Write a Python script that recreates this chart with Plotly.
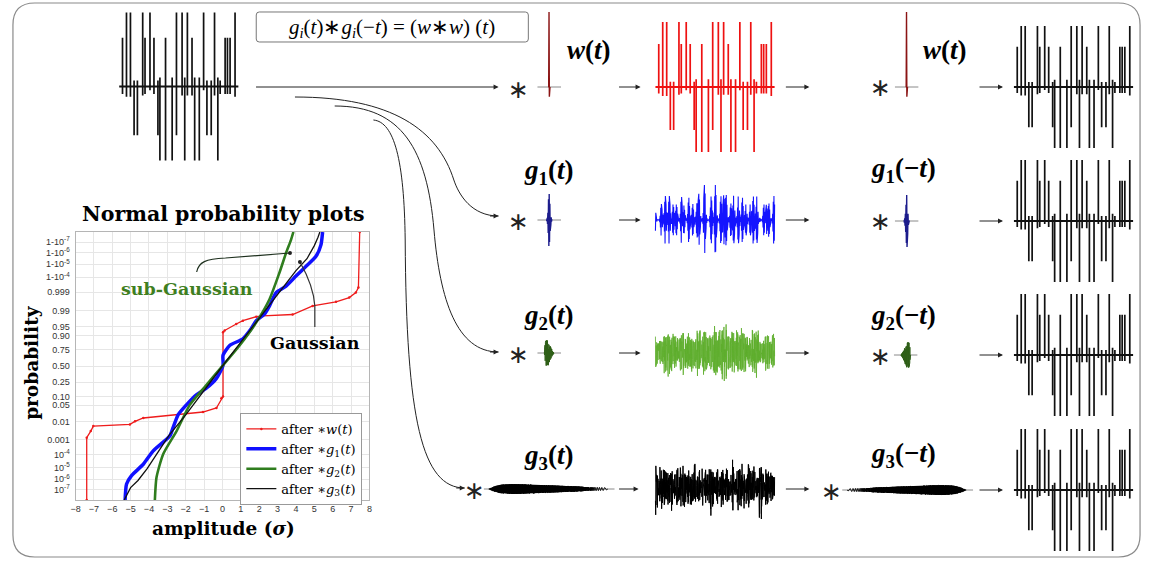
import numpy as np
import plotly.graph_objects as go

W, H = 1150, 562

# ---------------- data ----------------
# sparse reflectivity series (sample index, positive lobe, negative lobe)
spike_pos = [10, 22, 34, 45, 55, 71, 78, 93, 105, 117, 123, 140, 160, 173, 190,
             198, 206, 220, 228, 242, 255, 265, 278, 288, 298, 305, 320, 327, 335, 350]
spike_hi = [0.66, 1.0, 1.0, 0.08, 0.08, 1.0, 0.66, 1.0, 0.66, 0.08, 0.12, 0.66, 0.12, 1.0, 1.0,
            0.12, 1.0, 0.66, 0.12, 0.12, 1.0, 0.08, 0.08, 1.0, 0.12, 0.08, 0.66, 0.66, 0.66, 1.0]
spike_lo = [-0.10, -0.14, -0.14, -0.66, -0.66, -0.12, -0.10, -0.05, -0.10, -0.66, -1.0, -1.0, -1.0, -0.66, -0.12,
            -1.0, -0.12, -0.12, -1.0, -1.0, -0.05, -0.66, -0.66, -0.12, -1.0, -0.10, -0.10, -0.10, -0.10, -0.14]
n_samples = 361
upsample = 4

# wavelets
w_wavelet = [0.0, 0.0, 1.0, -0.13, 0.0, 0.0]
g1_wavelet = [0.02, -0.04, 0.08, -0.15, 0.28, -0.5, 0.8, -1.0, 1.0, -0.85, 0.62, -0.42, 0.28,
              -0.18, 0.1, -0.06, 0.03]
g2_len = 120
g2_env_pos = [0.0, 0.06, 0.16, 0.4, 0.62, 0.82, 1.0]
g2_env_val = [0.0, 0.55, 1.0, 0.95, 0.55, 0.2, 0.0]
g2_freq_pos = [0.0, 0.5, 1.0]
g2_freq_val = [0.41, 0.33, 0.27]
g3_env_pos = [0.0, 0.04, 0.1, 0.2, 0.356, 0.49, 0.63, 0.77, 0.82, 0.877, 0.93, 0.97, 1.0]
g3_env_val = [0.0, 0.45, 0.85, 1.0, 0.88, 0.75, 0.62, 0.48, 0.38, 0.32, 0.32, 0.32, 0.15]
g3_freq_pos = [0.0, 0.6, 0.84, 0.9, 0.96, 1.0]
g3_freq_val = [0.4, 0.3, 0.15, 0.05, 0.03, 0.015]

# normal probability plot
prob_ticks_z = [-5.199, -4.753, -4.265, -3.719, -3.090, -2.326, -1.645, -1.282, -0.674, 0.0,
                0.674, 1.282, 1.645, 2.326, 3.090, 3.719, 4.265, 4.753, 5.199]
prob_ticks_text = ['10<sup>-7</sup>', '10<sup>-6</sup>', '10<sup>-5</sup>', '10<sup>-4</sup>', '0.001',
                   '0.01', '0.05', '0.10', '0.25', '0.50', '0.75', '0.90', '0.95', '0.99', '0.999',
                   '1-10<sup>-4</sup>', '1-10<sup>-5</sup>', '1-10<sup>-6</sup>', '1-10<sup>-7</sup>']
amp_ticks = [-8, -7, -6, -5, -4, -3, -2, -1, 0, 1, 2, 3, 4, 5, 6, 7, 8]

red_amp = [-7.39, -7.39, -7.17, -7.03, -5.04, -4.76, -4.31, -1.06, -0.33, -0.06, 0.03, 0.03, 0.12,
           0.75, 1.11, 1.84, 2.2, 3.82, 4.91, 6.18, 6.9, 7.26, 7.4, 7.47]
red_z = [-5.62, -3.01, -2.73, -2.52, -2.45, -2.32, -2.18, -1.93, -1.76, -1.35, -1.28, 1.42, 1.49,
         1.76, 1.90, 2.07, 2.1, 2.16, 2.52, 2.69, 2.87, 3.08, 3.29, 5.62]
blue_amp = [-5.3, -5.22, -4.95, -4.31, -3.77, -2.87, -2.69, -2.41, -1.96, -1.42, -0.88, -0.33, 0.03,
            0.03, 0.39, 1.11, 1.56, 1.84, 2.29, 2.56, 2.92, 3.46, 4.0, 4.55, 5.09, 5.36, 5.45]
blue_z = [-5.62, -4.95, -4.6, -4.12, -3.56, -2.94, -2.59, -2.04, -1.63, -1.21, -0.93, -0.52, 0.03,
          0.45, 0.86, 1.14, 1.56, 1.90, 2.18, 2.52, 3.08, 3.35, 3.77, 4.18, 4.6, 5.08, 5.62]
green_amp = [-3.68, -3.59, -3.23, -2.5, -1.78, -0.88, 0.03, 0.93, 1.84, 2.56, 3.1, 3.46, 3.73, 3.86]
green_z = [-5.62, -4.67, -3.7, -2.73, -1.63, -0.8, 0.03, 0.86, 1.83, 2.8, 3.91, 4.74, 5.29, 5.62]
black_amp = [-5.35, -5.0, -4.6, -4.1, -3.5, -2.9, -2.0, -1.0, 0.0, 1.0, 2.0, 3.0, 4.0, 4.6, 5.0, 5.2, 5.3]
black_z = [-5.62, -5.1, -4.8, -4.3, -3.6, -2.9, -2.05, -1.0, 0.0, 1.0, 2.0, 3.05, 4.0, 4.5, 5.05, 5.4, 5.62]

# ---------------- derived signals ----------------
refl = np.zeros(n_samples)
n_fine = (n_samples - 1) * upsample + 1
refl_fine = np.zeros(n_fine)
for p, hi, lo in zip(spike_pos, spike_hi, spike_lo):
    refl[p] += hi
    refl[p + 1] += lo
    refl_fine[p * upsample] += hi
    refl_fine[p * upsample + 2] += lo


def chirp(n, env_pos, env_val, f_pos, f_val):
    t = np.linspace(0, 1, n)
    env = np.interp(t, env_pos, env_val)
    ph = 2 * np.pi * np.cumsum(np.interp(t, f_pos, f_val))
    return t, env, env * np.cos(ph)


_, g2_env, g2_wavelet = chirp(g2_len, g2_env_pos, g2_env_val, g2_freq_pos, g2_freq_val)
pp, g3_env, g3_wavelet = chirp(n_fine, g3_env_pos, g3_env_val, g3_freq_pos, g3_freq_val)


def circ_conv(sig, wav):
    k = np.zeros(len(sig))
    k[:len(wav)] = wav
    return np.real(np.fft.ifft(np.fft.fft(sig) * np.fft.fft(k)))


out_g1 = circ_conv(refl, g1_wavelet)
out_g2 = circ_conv(refl_fine, g2_wavelet)
out_g3 = circ_conv(refl_fine, g3_wavelet)

# ---------------- helpers ----------------
fig = go.Figure()
axes = {}
count = [1]


def px(x):
    return x / W


def py(y):
    return 1 - y / H


def add_panel(x0, x1, y0, y1, xr, yaxis_px, scale):
    count[0] += 1
    n = count[0]
    axes[f'xaxis{n}'] = dict(domain=[px(x0), px(x1)], range=list(xr), visible=False,
                             fixedrange=True, anchor=f'y{n}')
    axes[f'yaxis{n}'] = dict(domain=[py(y1), py(y0)],
                             range=[-(y1 - yaxis_px) / scale, (yaxis_px - y0) / scale],
                             visible=False, fixedrange=True, anchor=f'x{n}')
    return f'x{n}', f'y{n}'


def line(xa, ya, x, y, color, width, **kw):
    fig.add_trace(go.Scatter(x=x, y=y, mode='lines', line=dict(color=color, width=width),
                             xaxis=xa, yaxis=ya, showlegend=False, hoverinfo='skip', **kw))


def spike_panel(x0, yaxis_px, amp_px, color):
    xa, ya = add_panel(x0 - 3, x0 + 123, yaxis_px - amp_px * 1.15, yaxis_px + amp_px * 1.15,
                       (-9, 369), yaxis_px, amp_px)
    xs, ys = [], []
    for p, hi, lo in zip(spike_pos, spike_hi, spike_lo):
        xs += [p, p, None]
        ys += [lo, hi, None]
    line(xa, ya, [0, 360], [0, 0], color, 2.2)
    line(xa, ya, xs, ys, color, 1.7)


def wave_panel(x0, yaxis_px, up_px, sig, color, width=1.1, step=1):
    m = float(np.max(np.abs(sig)))
    xa, ya = add_panel(x0 - 3, x0 + 123, yaxis_px - up_px - 8, yaxis_px + up_px + 8,
                       (-9, 369), yaxis_px, up_px / m)
    line(xa, ya, np.arange(len(sig)) / step, sig, color, width)


def wavelet_panel(cx, yaxis_px, up_px, down_px, wav, color, width=1.4, spp=3):
    n = len(wav)
    c = (n - 1) / 2
    xa, ya = add_panel(cx - 12, cx + 12, yaxis_px - up_px - 4, yaxis_px + down_px + 4,
                       (c - 12 * spp, c + 12 * spp), yaxis_px, up_px)
    line(xa, ya, [c - 12 * spp, c + 12 * spp], [0, 0], '#8a8a8a', 1)
    line(xa, ya, np.arange(n), wav, color, width)


def g3_panel(x0, yaxis_px, reverse):
    idx = np.arange(n_fine) / upsample
    env, wav = g3_env, g3_wavelet
    if reverse:
        idx = 360 - idx
    xa, ya = add_panel(x0 - 5, x0 + 127, yaxis_px - 10, yaxis_px + 10, (-15, 381), yaxis_px, 5.0)
    line(xa, ya, [-15, 381], [0, 0], '#8a8a8a', 1)
    mask = pp <= 0.8
    xf = np.concatenate([idx[mask], idx[mask][::-1]])
    yf = np.concatenate([env[mask], -env[mask][::-1]])
    fig.add_trace(go.Scatter(x=xf, y=yf, mode='lines', fill='toself', fillcolor='black',
                             line=dict(width=0, color='black'), xaxis=xa, yaxis=ya,
                             showlegend=False, hoverinfo='skip'))
    line(xa, ya, idx, wav, 'black', 0.9)


def path(cmds):
    out = []
    for c in cmds:
        op, nums = c[0], c[1:]
        pts = [f'{px(nums[i]):.5f},{py(nums[i + 1]):.5f}' for i in range(0, len(nums), 2)]
        out.append(op + ' ' + ' '.join(pts))
    return ' '.join(out)


shapes, ann = [], []


def text(x, y, s, size, color='black', family='DejaVu Serif', **kw):
    ann.append(dict(x=px(x), y=py(y), xref='paper', yref='paper', text=s, showarrow=False,
                    font=dict(size=size, color=color, family=family),
                    xanchor='center', yanchor='middle', **kw))


def arrow(x0, y0, x1, y1):
    ann.append(dict(x=px(x1), y=py(y1), xref='paper', yref='paper', ax=x0 - x1, ay=y0 - y1,
                    axref='pixel', ayref='pixel', text='', showarrow=True, arrowhead=2,
                    arrowsize=1, arrowwidth=1, arrowcolor='#222'))


# ---------------- normal probability plot ----------------
fig.add_trace(go.Scatter(x=red_amp, y=red_z, mode='lines+markers', name='after ∗<i>w</i>(<i>t</i>)',
                         line=dict(color='#ee1c1c', width=1.3), marker=dict(size=2.5, color='#ee1c1c'),
                         hoverinfo='skip'))
fig.add_trace(go.Scatter(x=blue_amp, y=blue_z, mode='lines', name='after ∗<i>g</i><sub>1</sub>(<i>t</i>)',
                         line=dict(color='#1010ff', width=3.5, shape='spline', smoothing=0.6), hoverinfo='skip'))
fig.add_trace(go.Scatter(x=green_amp, y=green_z, mode='lines', name='after ∗<i>g</i><sub>2</sub>(<i>t</i>)',
                         line=dict(color='#2f7d1e', width=2.6, shape='spline', smoothing=0.6), hoverinfo='skip'))
fig.add_trace(go.Scatter(x=black_amp, y=black_z, mode='lines', name='after ∗<i>g</i><sub>3</sub>(<i>t</i>)',
                         line=dict(color='#111111', width=1.3), hoverinfo='skip'))

tickfont = dict(family='Liberation Sans', size=9, color='#333')
axes['xaxis'] = dict(domain=[px(71), px(367)], range=[-8, 8], tickvals=amp_ticks,
                     showgrid=True, gridcolor='#e6e6e6', showline=True, linecolor='#b5b5b5',
                     mirror=True, ticks='', tickfont=tickfont, zeroline=False, fixedrange=True,
                     anchor='y')
axes['yaxis'] = dict(domain=[py(500), py(232)], range=[-5.62, 5.62], tickvals=prob_ticks_z,
                     ticktext=prob_ticks_text, showgrid=True, gridcolor='#e6e6e6', showline=True,
                     linecolor='#b5b5b5', mirror=True, ticks='', tickfont=tickfont, zeroline=False,
                     fixedrange=True, anchor='x', ticklabelstandoff=3)

text(220, 214, '<b>Normal probability plots</b>', 20.5)
text(220, 528, '<b>amplitude (<i>σ</i>)</b>', 18.5)
text(26, 362, '<b>probability</b>', 18.5, textangle=-90)
text(183, 289, '<b>sub-Gaussian</b>', 17.5, color='#3f7f1f')
text(312, 343, '<b>Gaussian</b>', 17.5)
shapes.append(dict(type='path', xref='paper', yref='paper', layer='above',
                   path=path([('M', 193, 272), ('C', 195, 262, 202, 259, 222, 258), ('L', 287, 253)]),
                   line=dict(color='#1e301e', width=1.2)))
shapes.append(dict(type='path', xref='paper', yref='paper', layer='above',
                   path=path([('M', 312, 327), ('L', 312, 306), ('C', 311, 290, 305, 276, 297, 262)]),
                   line=dict(color='#333', width=1.2)))
for cx, cy in [(287, 253), (297, 262)]:
    shapes.append(dict(type='circle', xref='paper', yref='paper', layer='above',
                       x0=px(cx - 2), x1=px(cx + 2), y0=py(cy + 2), y1=py(cy - 2),
                       fillcolor='#222', line=dict(width=0)))

# ---------------- diagram ----------------
# input series
spike_panel(115, 86.5, 74, '#111111')

# column outputs
spike_panel(655, 87, 65, '#ee1111')
wave_panel(655, 220, 35, out_g1, '#1414ff')
wave_panel(655, 352, 29, out_g2, '#5fae2e', 0.8, upsample)
wave_panel(655, 487, 32, out_g3, '#000000', 1.0, upsample)

# final outputs
for ya_px in [87, 221, 355, 490]:
    spike_panel(1016, ya_px, 61, '#111111')

# wavelets left
wavelet_panel(548, 87, 75, 12, w_wavelet, '#8b1414')
wavelet_panel(548, 220, 26, 27, g1_wavelet, '#1c1c8c')
wavelet_panel(548, 353, 13, 15, g2_wavelet, '#2d5e16', 1.0, 12)
g3_panel(487, 489, False)
# wavelets right
wavelet_panel(908, 87, 75, 12, w_wavelet, '#8b1414')
wavelet_panel(908, 221, 26, 27, g1_wavelet[::-1], '#1c1c8c')
wavelet_panel(907, 355, 13, 15, g2_wavelet[::-1], '#2d5e16', 1.0, 12)
g3_panel(848, 490, True)

# labels
mathfont = 'Liberation Serif'
wt = '<b><i>w</i>(<i>t</i>)</b>'
text(588, 50, wt, 27, family=mathfont)
text(947, 50, wt, 27, family=mathfont)
for i, (yl, yr) in enumerate([(172, 170), (317, 317), (457, 455)], start=1):
    text(547, yl, f'<b><i>g</i><sub>{i}</sub>(<i>t</i>)</b>', 27, family=mathfont)
    text(905, yr, f'<b><i>g</i><sub>{i}</sub>(−<i>t</i>)</b>', 27, family=mathfont)

# asterisks
for (sx, sy) in [(517, 88), (517, 220), (517, 353), (473, 489), (882, 87), (882, 221), (882, 355), (832, 490)]:
    text(sx, sy + 1, '∗', 25, color='#222', family='DejaVu Sans')

# equation box
shapes.append(dict(type='path', xref='paper', yref='paper', layer='above',
                   path=path([('M', 256, 12), ('L', 524, 12), ('Q', 527, 12, 527, 15), ('L', 527, 39),
                              ('Q', 527, 42, 524, 42), ('L', 256, 42), ('Q', 253, 42, 253, 39),
                              ('L', 253, 15), ('Q', 253, 12, 256, 12), ('Z',)]),
                   line=dict(color='#777', width=1)))
text(390, 28, '<i>g<sub>i</sub></i>(<i>t</i>)∗<i>g<sub>i</sub></i>(−<i>t</i>) = (<i>w</i>∗<i>w</i>) (<i>t</i>)',
     21, family=mathfont)

# straight arrows
arrow(253, 87, 497, 87)
for yy in [87, 220, 353]:
    arrow(617, yy, 640, yy)
    arrow(785, yy, 810, yy)
arrow(617, 489, 638, 489)
arrow(785, 489, 810, 489)
for yy in [87, 221, 355, 490]:
    arrow(980, yy, 1005, yy)

# curved arrows
curves = [
    [('M', 292, 97), ('C', 390, 97, 436, 130, 452, 180), ('C', 457, 195, 470, 216, 497, 216)],
    [('M', 332, 106), ('C', 400, 106, 425, 150, 432, 230), ('C', 438, 300, 455, 352, 497, 352)],
    [('M', 371, 120), ('C', 392, 122, 402, 160, 403, 240), ('C', 404, 420, 420, 488, 463, 488)],
]
for c in curves:
    shapes.append(dict(type='path', xref='paper', yref='paper', layer='above', path=path(c),
                       line=dict(color='#222', width=1)))
arrow(487, 216, 497, 216)
arrow(487, 352, 497, 352)
arrow(453, 488, 463, 488)

# outer rounded frame
r = 22
x0f, x1f, y0f, y1f = 8, 1143, 3, 557
shapes.append(dict(type='path', xref='paper', yref='paper', layer='above',
                   path=path([('M', x0f + r, y0f), ('L', x1f - r, y0f), ('Q', x1f, y0f, x1f, y0f + r),
                              ('L', x1f, y1f - r), ('Q', x1f, y1f, x1f - r, y1f), ('L', x0f + r, y1f),
                              ('Q', x0f, y1f, x0f, y1f - r), ('L', x0f, y0f + r),
                              ('Q', x0f, y0f, x0f + r, y0f), ('Z',)]),
                   line=dict(color='#8a8a8a', width=1.2)))

fig.update_layout(
    width=W, height=H, margin=dict(l=0, r=0, t=0, b=0),
    paper_bgcolor='white', plot_bgcolor='white',
    showlegend=True,
    legend=dict(x=px(237), y=py(413), xanchor='left', yanchor='top', bgcolor='white',
                bordercolor='#999', borderwidth=1, tracegroupgap=0, itemwidth=30,
                font=dict(family='DejaVu Serif', size=13, color='black')),
    shapes=shapes, annotations=ann, **axes,
)

fig.write_html('out.html', config={'displayModeBar': False},
               post_script="document.body.style.margin='0';document.body.style.overflow='hidden';")
